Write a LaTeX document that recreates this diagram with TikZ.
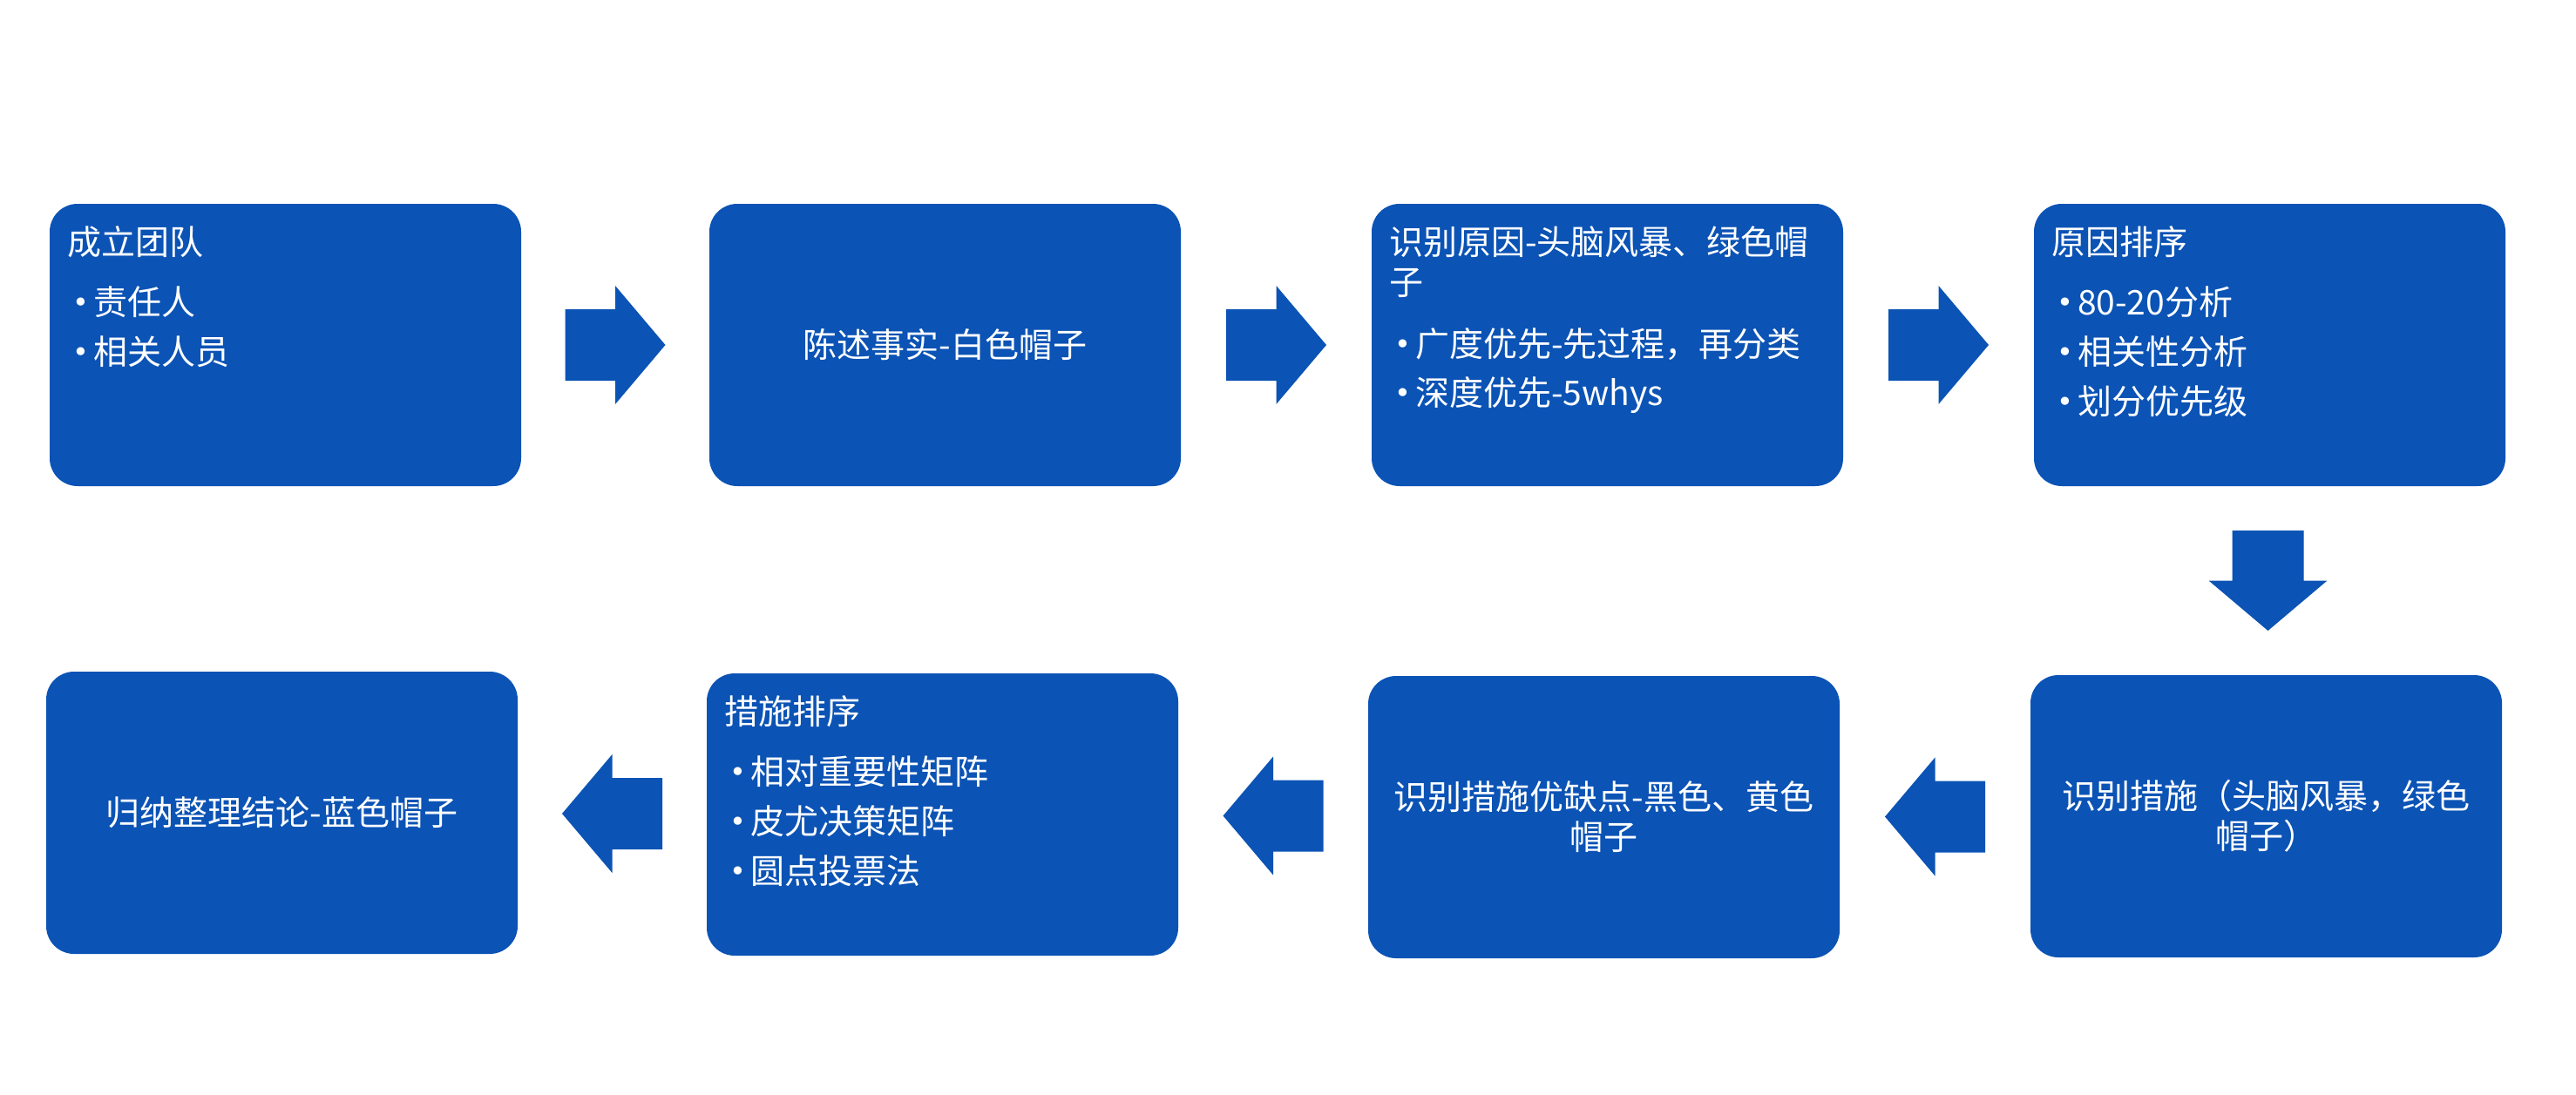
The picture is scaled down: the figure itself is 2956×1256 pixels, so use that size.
\documentclass[tikz,border=0pt]{standalone}
\usepackage{fontspec}
\setmainfont{Noto Sans CJK SC}
\newfontfamily\bulletfont{DejaVu Sans}
\usetikzlibrary{calc}
\definecolor{boxblue}{RGB}{11,83,181}
\newcommand{\bul}{\makebox[24pt][l]{\bulletfont\fontsize{32}{32}\selectfont\raisebox{3pt}{•}}}
\begin{document}
\begin{tikzpicture}[x=1pt,y=-1pt,
  box/.style={fill=boxblue, draw=none, rounded corners=32pt, minimum width=541pt, minimum height=324pt, inner sep=0pt, outer sep=0pt},
  txt/.style={text=white, font=\fontsize{39}{46}\selectfont, inner sep=0pt, outer sep=0pt},
  lbl/.style={txt, anchor=base west, align=left},
  ctr/.style={txt, align=center},
  rarrow/.pic={\fill[boxblue] (-57.5,-41) -- (0,-41) -- (0,-68) -- (57.5,0) -- (0,68) -- (0,41) -- (-57.5,41) -- cycle;},
  larrow/.pic={\fill[boxblue] (57.5,-41) -- (0,-41) -- (0,-68) -- (-57.5,0) -- (0,68) -- (0,41) -- (57.5,41) -- cycle;},
  darrow/.pic={\fill[boxblue] (-41,-57.5) -- (41,-57.5) -- (41,0) -- (68,0) -- (0,57.5) -- (-68,0) -- (-41,0) -- cycle;}
]
\useasboundingbox[fill=white] (0,0) rectangle (2956,1256);

% boxes
\node[box] (b1) at (327.5,396) {};
\node[box] (b2) at (1084.5,396) {};
\node[box] (b3) at (1844.5,396) {};
\node[box] (b4) at (2604.5,396) {};
\node[box] (b5) at (2600.5,937) {};
\node[box] (b6) at (1840.5,938) {};
\node[box] (b7) at (1081.5,935) {};
\node[box] (b8) at (323.5,933) {};

% box 1
\node[lbl] (b1t) at ($(b1.north west)+(20,58)$) {成立团队};
\node[lbl] (b1a) at ($(b1.north west)+(26,127)$) {\bul 责任人};
\node[lbl] (b1b) at ($(b1.north west)+(26,184)$) {\bul 相关人员};

% box 2
\node[ctr] (b2t) at (b2.center) {陈述事实-白色帽子};

% box 3
\node[lbl] (b3t) at ($(b3.north west)+(20,58)$) {识别原因-头脑风暴、绿色帽};
\node[lbl] (b3u) at ($(b3.north west)+(20,104)$) {子};
\node[lbl] (b3a) at ($(b3.north west)+(26,175)$) {\bul 广度优先-先过程，再分类};
\node[lbl] (b3b) at ($(b3.north west)+(26,231)$) {\bul 深度优先-5whys};

% box 4
\node[lbl] (b4t) at ($(b4.north west)+(20,58)$) {原因排序};
\node[lbl] (b4a) at ($(b4.north west)+(26,127)$) {\bul 80-20分析};
\node[lbl] (b4b) at ($(b4.north west)+(26,184)$) {\bul 相关性分析};
\node[lbl] (b4c) at ($(b4.north west)+(26,241)$) {\bul 划分优先级};

% box 5
\node[ctr] (b5t) at (b5.center) {识别措施（头脑风暴，绿色\\帽子）};

% box 6
\node[ctr] (b6t) at (b6.center) {识别措施优缺点-黑色、黄色\\帽子};

% box 7
\node[lbl] (b7t) at ($(b7.north west)+(20,58)$) {措施排序};
\node[lbl] (b7a) at ($(b7.north west)+(26,127)$) {\bul 相对重要性矩阵};
\node[lbl] (b7b) at ($(b7.north west)+(26,184)$) {\bul 皮尤决策矩阵};
\node[lbl] (b7c) at ($(b7.north west)+(26,241)$) {\bul 圆点投票法};

% box 8
\node[ctr] (b8t) at (b8.center) {归纳整理结论-蓝色帽子};

% arrows
\coordinate (a1) at ($(b1.east)!0.5!(b2.west)$);
\coordinate (a2) at ($(b2.east)!0.5!(b3.west)$);
\coordinate (a3) at ($(b3.east)!0.5!(b4.west)$);
\coordinate (a4) at ($(b4.south)!0.5!(b5.north)$);
\coordinate (a5) at ($(b5.west)!0.5!(b6.east)$);
\coordinate (a6) at ($(b6.west)!0.5!(b7.east)$);
\coordinate (a7) at ($(b7.west)!0.5!(b8.east)$);
\pic at (a1) {rarrow};
\pic at (a2) {rarrow};
\pic at (a3) {rarrow};
\pic at (a4) {darrow};
\pic at (a5) {larrow};
\pic at (a6) {larrow};
\pic at (a7) {larrow};
\end{tikzpicture}
\end{document}
